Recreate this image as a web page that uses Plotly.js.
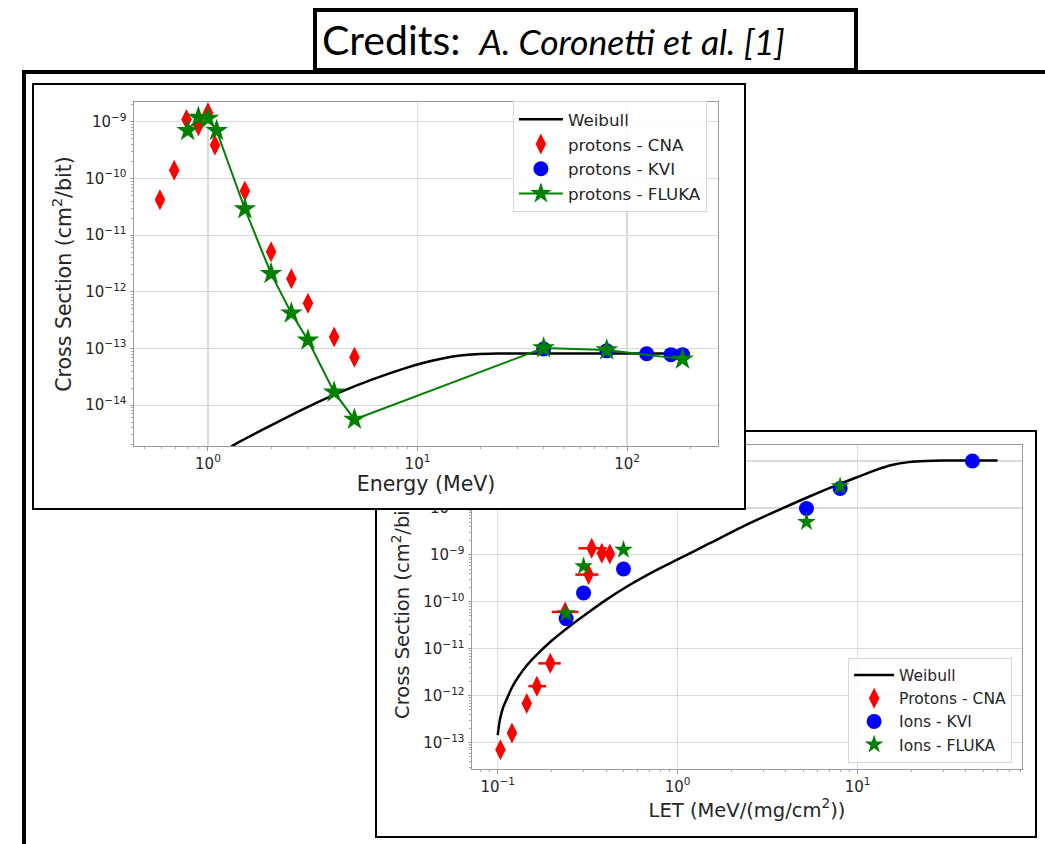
<!DOCTYPE html>
<html>
<head>
<meta charset="utf-8">
<script src="https://cdn.plot.ly/plotly-3.0.1.min.js"></script>
<style>
  html, body { margin: 0; padding: 0; background: #ffffff; }
  body { width: 1045px; height: 844px; position: relative; overflow: hidden; }
  .frame-top { position: absolute; left: 22px; top: 70px; width: 1023px; height: 4px; background: #000; }
  .frame-left { position: absolute; left: 22px; top: 70px; width: 4px; height: 774px; background: #000; }
  .credits { position: absolute; left: 313px; top: 8px; width: 545px; height: 64px; box-sizing: border-box;
             border: 4px solid #000; background: #fff; }
  .credits .txt { position: absolute; left: 5px; top: 3px; white-space: nowrap; font-family: Lato, "Open Sans", sans-serif; color: #000; }
  .credits .main { font-size: 41px; }
  .credits .auth { font-size: 35.5px; font-style: italic; margin-left: 19px; }
  .panel { position: absolute; box-sizing: border-box; border: 2px solid #000; background: #fff; }
  #panelBottom { left: 375px; top: 430px; width: 662px; height: 408px; }
  #panelTop { left: 32px; top: 83px; width: 714px; height: 427px; }
</style>
</head>
<body>
<div class="frame-top"></div>
<div class="frame-left"></div>
<div class="credits"><div class="txt"><span class="main">Credits:</span><span class="auth">A. Coronetti et al. [1]</span></div></div>
<div class="panel" id="panelBottom"><div id="plotBottom"></div></div>
<div class="panel" id="panelTop"><div id="plotTop"></div></div>
<script>
// ---- Proton energy scan (upper plot) ----
const topCnaE = [0.59, 0.69, 0.79, 0.9, 1.0, 1.08, 1.5, 2.0, 2.5, 3.0, 4.0, 5.0];
const topCnaXS = [4.2e-11, 1.4e-10, 1.1e-9, 8.5e-10, 1.45e-9, 3.9e-10, 6.0e-11, 5.1e-12, 1.7e-12, 6.3e-13, 1.6e-13, 7.0e-14];

const topKviE = [40, 80, 124, 162, 184];
const topKviXS = [0.98e-13, 9.1e-14, 8.1e-14, 7.8e-14, 7.8e-14];

const topFlukaE = [0.8, 0.9, 1.0, 1.1, 1.5, 2.0, 2.5, 3.0, 4.0, 5.0, 40, 80, 184];
const topFlukaXS = [7.0e-10, 1.2e-9, 1.15e-9, 7.0e-10, 2.9e-11, 2.1e-12, 4.2e-13, 1.4e-13, 1.7e-14, 5.6e-15, 1.02e-13, 9.4e-14, 6.5e-14];

const topWeibullE = [1.2, 1.32, 2.0, 2.9, 4.2, 6.1, 8.9, 10.5, 13, 16, 19, 24, 30, 60, 120, 185];
const topWeibullXS = [1.5e-15, 1.95e-15, 4.4e-15, 8.8e-15, 1.65e-14, 2.85e-14, 4.6e-14, 5.5e-14, 6.6e-14, 7.5e-14, 7.95e-14, 8.15e-14, 8.2e-14, 8.2e-14, 8.2e-14, 8.2e-14];

const topXTickVals = [1, 10, 100];
const topXTickText = ['10<sup>0</sup>', '10<sup>1</sup>', '10<sup>2</sup>'];
const topYTickVals = [1e-14, 1e-13, 1e-12, 1e-11, 1e-10, 1e-9];
const topYTickText = ['10<sup>−14</sup>', '10<sup>−13</sup>', '10<sup>−12</sup>', '10<sup>−11</sup>', '10<sup>−10</sup>', '10<sup>−9</sup>'];

// ---- LET scan (lower plot) ----
const botWeibullLET = [0.1, 0.103, 0.107, 0.113, 0.12, 0.13, 0.145, 0.165, 0.2, 0.25, 0.32, 0.4, 0.52, 0.7, 1.0, 1.5, 2.3, 3.5, 5.4, 7.9, 10, 12.6, 15.5, 19.3, 24, 30, 60];
const botWeibullXS = [1.45e-13, 3.2e-13, 5.5e-13, 9.0e-13, 1.5e-12, 2.5e-12, 4.4e-12, 7.5e-12, 1.5e-11, 3.0e-11, 6.0e-11, 1.1e-10, 2.1e-10, 4.0e-10, 8.0e-10, 1.75e-9, 4.0e-9, 8.4e-9, 1.75e-8, 3.2e-8, 4.55e-8, 6.4e-8, 8.2e-8, 9.45e-8, 1.0e-7, 1.02e-7, 1.02e-7];

const botCnaLET = [0.1035, 0.12, 0.145, 0.165, 0.196, 0.237, 0.32, 0.333, 0.379, 0.42];
const botCnaXS = [7.1e-14, 1.6e-13, 6.8e-13, 1.6e-12, 4.9e-12, 6.1e-11, 3.8e-10, 1.38e-9, 1.08e-9, 1.05e-9];
const botCnaErrMinus = [0, 0, 0, 0.017, 0.028, 0.037, 0.05, 0.052, 0, 0];
const botCnaErrPlus = [0, 0, 0, 0.021, 0.028, 0.044, 0.043, 0.071, 0, 0];

const botKviLET = [0.24, 0.3, 0.5, 5.2, 8.0, 43.5];
const botKviXS = [4.4e-11, 1.55e-10, 5.0e-10, 9.7e-9, 2.6e-8, 1.0e-7];

const botFlukaLET = [0.24, 0.3, 0.5, 5.2, 8.0];
const botFlukaXS = [5.7e-11, 5.7e-10, 1.28e-9, 5.0e-9, 2.9e-8];

const botXTickVals = [0.1, 1, 10];
const botXTickText = ['10<sup>−1</sup>', '10<sup>0</sup>', '10<sup>1</sup>'];
const botYTickVals = [1e-13, 1e-12, 1e-11, 1e-10, 1e-9, 1e-8, 1e-7];
const botYTickText = ['10<sup>−13</sup>', '10<sup>−12</sup>', '10<sup>−11</sup>', '10<sup>−10</sup>', '10<sup>−9</sup>', '10<sup>−8</sup>', '10<sup>−7</sup>'];

// minor tick positions (2..9 within each decade)
function minorTicks(lo, hi) {
  const out = [];
  for (let e = lo; e <= hi; e++) for (let m = 2; m <= 9; m++) out.push(m * Math.pow(10, e));
  return out;
}

const FONT = 'DejaVu Sans, sans-serif';
const TXT = '#262626';

function axis(range, vals, text, title, minorVals, standoff, titleSize) {
  return {
    type: 'log', range: range, tickmode: 'array', tickvals: vals, ticktext: text,
    showgrid: true, gridcolor: '#dadada', gridwidth: 1.2,
    showline: true, mirror: true, linecolor: '#9a9a9a', linewidth: 1,
    ticks: 'outside', ticklen: 3.5, tickcolor: '#9a9a9a',
    minor: { tickmode: 'array', tickvals: minorVals, ticks: 'outside', ticklen: 2, tickcolor: '#aaaaaa', showgrid: false },
    tickfont: { family: FONT, size: 15, color: TXT },
    title: { text: title, font: { family: FONT, size: titleSize, color: TXT }, standoff: standoff },
    zeroline: false
  };
}

const topData = [
  { x: topWeibullE, y: topWeibullXS, name: 'Weibull', mode: 'lines', line: { color: '#000', width: 2.5, shape: 'spline', smoothing: 0.8 } },
  { x: topCnaE, y: topCnaXS, name: 'protons - CNA', mode: 'markers', marker: { symbol: 'diamond-tall', size: 15, color: '#ff0000' } },
  { x: topKviE, y: topKviXS, name: 'protons - KVI', mode: 'markers', marker: { symbol: 'circle', size: 15, color: '#0000ff' } },
  { x: topFlukaE, y: topFlukaXS, name: 'protons - FLUKA', mode: 'lines+markers', line: { color: '#008000', width: 2 },
    marker: { symbol: 'star', size: 17, color: '#008000' } }
];

const topLayout = {
  width: 710, height: 423,
  margin: { l: 100, r: 26, t: 17, b: 62 },
  paper_bgcolor: '#fff', plot_bgcolor: '#fff',
  font: { family: FONT, color: TXT },
  showlegend: true,
  legend: { x: 0.981, y: 1.003, xanchor: 'right', yanchor: 'top', bgcolor: 'rgba(255,255,255,0.85)', itemwidth: 44,
            bordercolor: '#d8d8d8', borderwidth: 1, font: { family: FONT, size: 16.7, color: TXT }, tracegroupgap: 0 },
  xaxis: axis([-0.353, 2.434], topXTickVals, topXTickText, 'Energy (MeV)', minorTicks(-1, 2), 3, 20.5),
  yaxis: axis([-14.72, -8.65], topYTickVals, topYTickText, 'Cross Section (cm<sup>2</sup>/bit)', minorTicks(-15, -9), 8, 20.5)
};

const botData = [
  { x: botWeibullLET, y: botWeibullXS, name: 'Weibull', mode: 'lines', line: { color: '#000', width: 2.5, shape: 'spline', smoothing: 0.8 } },
  { x: botCnaLET, y: botCnaXS, name: 'Protons - CNA', mode: 'markers', marker: { symbol: 'diamond-tall', size: 15, color: '#ff0000' },
    error_x: { type: 'data', symmetric: false, array: botCnaErrPlus, arrayminus: botCnaErrMinus, color: '#ff0000', thickness: 2.5, width: 0 } },
  { x: botKviLET, y: botKviXS, name: 'Ions - KVI', mode: 'markers', marker: { symbol: 'circle', size: 15, color: '#0000ff' } },
  { x: botFlukaLET, y: botFlukaXS, name: 'Ions - FLUKA', mode: 'markers', marker: { symbol: 'star', size: 14, color: '#008000' } }
];

const botLayout = {
  width: 658, height: 404,
  margin: { l: 95, r: 13, t: 13, b: 67 },
  paper_bgcolor: '#fff', plot_bgcolor: '#fff',
  font: { family: FONT, color: TXT },
  showlegend: true,
  legend: { x: 0.982, y: 0.02, xanchor: 'right', yanchor: 'bottom', bgcolor: 'rgba(255,255,255,0.85)', itemwidth: 40,
            bordercolor: '#d8d8d8', borderwidth: 1, font: { family: FONT, size: 15.5, color: TXT }, tracegroupgap: 0 },
  xaxis: axis([-1.143, 1.914], botXTickVals, botXTickText, 'LET (MeV/(mg/cm<sup>2</sup>))', minorTicks(-2, 1), 3, 19.5),
  yaxis: axis([-13.56, -6.66], botYTickVals, botYTickText, 'Cross Section (cm<sup>2</sup>/bit)', minorTicks(-14, -7), 8, 19.5)
};

const cfg = { staticPlot: true, displayModeBar: false };
Plotly.newPlot('plotBottom', botData, botLayout, cfg);
Plotly.newPlot('plotTop', topData, topLayout, cfg);
</script>
</body>
</html>
